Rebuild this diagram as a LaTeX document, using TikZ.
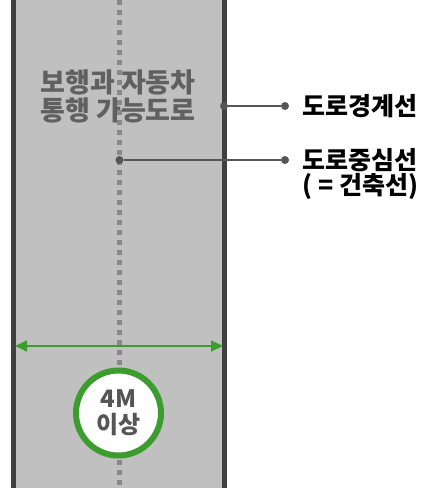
\documentclass[tikz,border=0pt]{standalone}
\usepackage{fontspec}
\newfontfamily\kr{Noto Sans CJK KR}
\usetikzlibrary{arrows.meta}
\definecolor{roadgray}{HTML}{C0C0C0}
\definecolor{edgegray}{HTML}{404040}
\definecolor{dashgray}{HTML}{888888}
\definecolor{textgray}{HTML}{606060}
\definecolor{leadgray}{HTML}{555555}
\definecolor{widthgreen}{HTML}{3C9C2E}

\begin{document}
\begin{tikzpicture}[x=1pt,y=-1pt,
        roadedge/.style={draw=edgegray,line width=5pt},
        dot/.style={circle,fill=leadgray,inner sep=0pt,minimum size=8pt},
        lead/.style={draw=leadgray,line width=1.4pt},
        tag/.style={anchor=west,align=left,font=\kr\bfseries\fontsize{25}{25}\selectfont}]
    \useasboundingbox (0,0) rectangle (443,492);
    \fill[roadgray] (11,0) rectangle (227,488);
    \node[align=center,text=textgray,font=\kr\bfseries\fontsize{27}{28}\selectfont] (road) at (118,96) {보행과 자동차\\통행 가능도로};
    \draw[draw=dashgray,line width=5pt,dash pattern=on 5pt off 5pt] (119.5,0) -- (119.5,488);
    \draw[roadedge] (13.5,0) -- (13.5,488);
    \draw[roadedge] (224.5,0) -- (224.5,488);
    % leaders
    \node[dot] (b1) at (224,106) {};
    \node[dot] (b2) at (285,106) {};
    \draw[lead] (b1) -- (b2);
    \node[tag] (bline) at (299,106) {도로경계선};
    \node[dot] (c1) at (119.5,160) {};
    \node[dot] (c2) at (285,160) {};
    \draw[lead] (c1) -- (c2);
    \node[tag,anchor=north west] (cline) at (299,145) {도로중심선\\( = 건축선)};
    % road width
    \coordinate (wl) at (15,346);
    \coordinate (wr) at (223,346);
    \draw[widthgreen,line width=2pt,{Triangle[length=12pt,width=11pt]}-{Triangle[length=12pt,width=11pt]}] (wl) -- (wr);
    \node[circle,draw=widthgreen,line width=6pt,fill=white,minimum size=85pt,inner sep=0pt,align=center,
          text=leadgray,font=\kr\bfseries\fontsize{24}{26}\selectfont] (wd) at (118.5,413) {4M\\이상};
\end{tikzpicture}
\end{document}
